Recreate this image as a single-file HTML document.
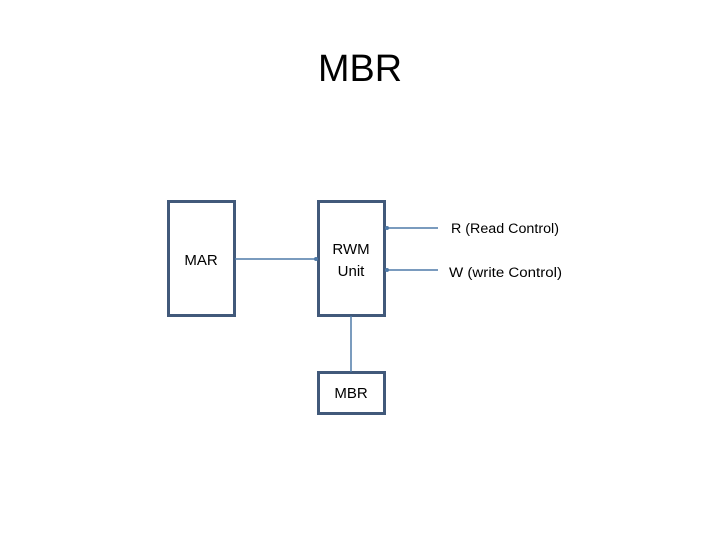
<!DOCTYPE html>
<html><head><style>
body{margin:0;background:#fff;}
svg{display:block}
text{font-family:"Liberation Sans",sans-serif;fill:#000}
</style></head><body>
<svg width="720" height="540" xmlns="http://www.w3.org/2000/svg">
<text x="360" y="81" font-size="38" text-anchor="middle" textLength="84" lengthAdjust="spacingAndGlyphs">MBR</text>
<g fill="none" stroke="#41597a" stroke-width="3">
<rect x="168.5" y="201.5" width="66" height="114"/>
<rect x="318.5" y="201.5" width="66" height="114"/>
<rect x="318.5" y="372.5" width="66" height="41"/>
</g>
<g stroke="#4f7aa8" stroke-width="1.5">
<line x1="235" y1="259" x2="318" y2="259"/>
<line x1="385" y1="228" x2="438" y2="228"/>
<line x1="385" y1="270" x2="438" y2="270"/>
<line x1="351" y1="316" x2="351" y2="372"/>
</g>
<g fill="#4f7aa8"><circle cx="316" cy="259" r="2"/><circle cx="387" cy="228" r="2"/><circle cx="387" cy="270" r="2"/></g>
<g font-size="15">
<text x="201" y="265" text-anchor="middle">MAR</text>
<text x="351" y="254" text-anchor="middle">RWM</text>
<text x="351" y="276" text-anchor="middle">Unit</text>
<text x="351" y="398" text-anchor="middle">MBR</text>
</g>
<g font-size="13.5">
<text x="451" y="233" textLength="108" lengthAdjust="spacingAndGlyphs">R (Read Control)</text>
<text x="449" y="277" textLength="113" lengthAdjust="spacingAndGlyphs">W (write Control)</text>
</g>
</svg>
</body></html>
